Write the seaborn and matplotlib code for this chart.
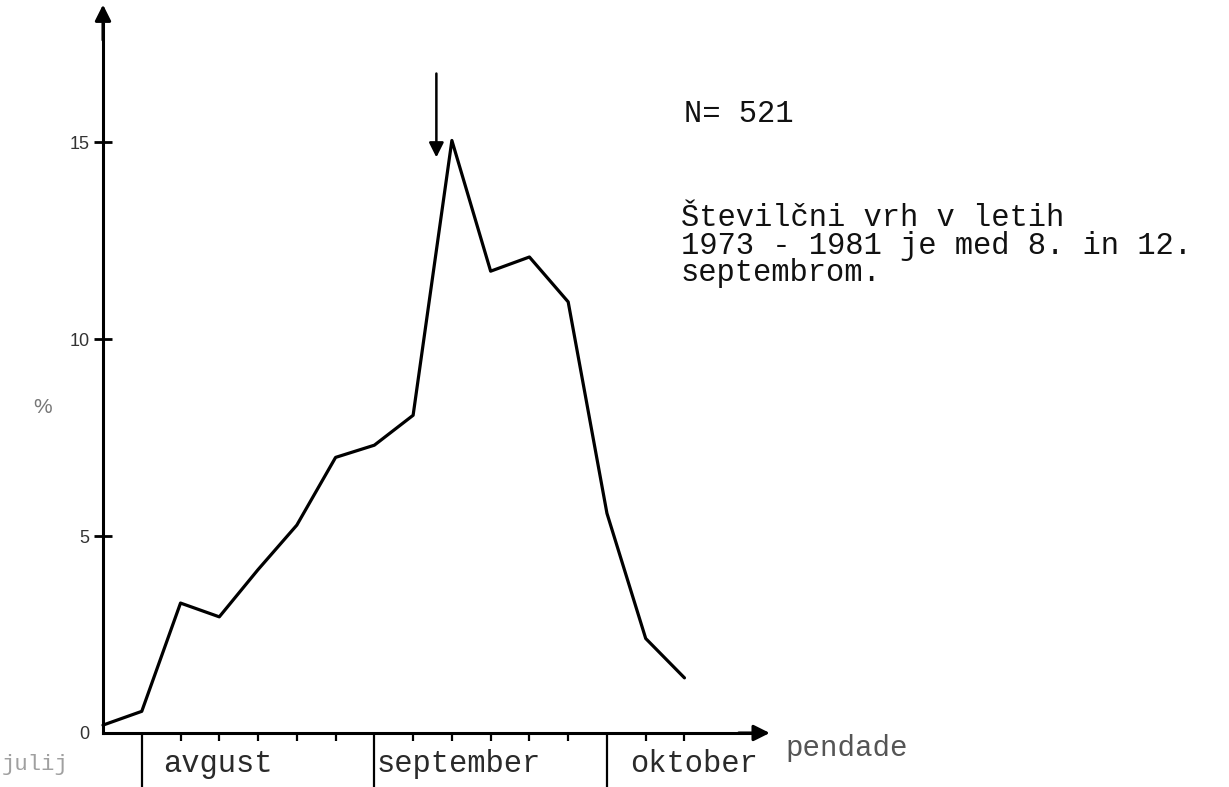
import matplotlib
matplotlib.use("Agg")
import matplotlib.pyplot as plt
import seaborn as sns
import pandas as pd

# ---- data ----
pentade = list(range(16))
odstotek = [0.2, 0.55, 3.3, 2.95, 4.15, 5.28, 7.0, 7.31, 8.07, 15.05,
            11.73, 12.09, 10.95, 5.58, 2.4, 1.4]
y_ticks = [0, 5, 10, 15]
y_tick_labels = ["0", "5", "10", "15"]
month_names = ["julij", "avgust", "september", "oktober"]
month_bounds = [1, 7, 13]
minor_ticks = [2, 3, 4, 5, 6, 8, 9, 10, 11, 12, 14, 15]
peak_arrow_x = 8.6
n_text = "N= 521"
note_text = "Številčni vrh v letih\n1973 - 1981 je med 8. in 12.\nseptembrom."

df = pd.DataFrame({"pentada": pentade, "odstotek": odstotek})

sns.set_style("white")
plt.rcParams["font.family"] = ["DejaVu Sans"]

fig = plt.figure(figsize=(12.29, 7.87), dpi=100)
ax = fig.add_axes([0, 0, 1, 1])
ax.set_facecolor("white")

sns.lineplot(data=df, x="pentada", y="odstotek", ax=ax, color="black",
             linewidth=2.3, clip_on=False)

# pixel-calibrated limits
ax.set_xlim(-2.657, 29.047)
ax.set_ylim(-1.372, 18.618)

# axes as arrows
for s in ["top", "right"]:
    ax.spines[s].set_visible(False)
ax.spines["left"].set_position(("data", 0))
ax.spines["bottom"].set_position(("data", 0))
ax.spines["left"].set_bounds(0, 18.0)
ax.spines["bottom"].set_bounds(0, 16.8)
ax.spines["left"].set_linewidth(2.2)
ax.spines["bottom"].set_linewidth(2.2)
ax.spines["left"].set_color("black")
ax.spines["bottom"].set_color("black")
ax.annotate("", xy=(0, 18.5), xytext=(0, 17.6),
            arrowprops=dict(arrowstyle="-|>", color="black", lw=2.2,
                            mutation_scale=24, shrinkA=0, shrinkB=0))
ax.annotate("", xy=(17.2, 0), xytext=(16.4, 0),
            arrowprops=dict(arrowstyle="-|>", color="black", lw=2.2,
                            mutation_scale=24, shrinkA=0, shrinkB=0))

# y ticks
ax.set_yticks(y_ticks)
ax.set_yticklabels(y_tick_labels, fontsize=13, color="#333333",
                   family=["Liberation Sans", "DejaVu Sans"])
ax.tick_params(axis="y", which="major", left=True, direction="inout",
               length=13, width=2, color="black", pad=3)
ax.yaxis.get_major_ticks()[0].tick1line.set_visible(False)

# x ticks
ax.set_xticks(month_bounds)
ax.set_xticklabels([""] * len(month_bounds))
ax.set_xticks(minor_ticks, minor=True)
ax.tick_params(axis="x", which="major", bottom=True, direction="out",
               length=40, width=1.6, color="black")
ax.tick_params(axis="x", which="minor", bottom=True, direction="out",
               length=6, width=1.6, color="black")
ax.set_xlabel("")
ax.set_ylabel("")
ax.grid(False)

mono = ["Liberation Mono", "DejaVu Sans Mono"]

# month labels
ax.text(-2.62, -0.8, month_names[0], fontsize=16, family=mono,
        color="#a0a0a0", ha="left", va="center")
ax.text(1.55, -0.8, month_names[1], fontsize=22, family=mono,
        color="#2a2a2a", ha="left", va="center")
ax.text(7.06, -0.8, month_names[2], fontsize=22, family=mono,
        color="#2a2a2a", ha="left", va="center")
ax.text(13.6, -0.8, month_names[3], fontsize=22, family=mono,
        color="#2a2a2a", ha="left", va="center")
ax.text(17.6, -0.38, "pendade", fontsize=21, family=mono,
        color="#555555", ha="left", va="center")

# % label
ax.text(-1.57, 8.28, "%", fontsize=15, color="#777777", ha="center",
        va="center", family=["Liberation Sans", "DejaVu Sans"])

# peak arrow
ax.annotate("", xy=(peak_arrow_x, 14.62), xytext=(peak_arrow_x, 16.75),
            arrowprops=dict(arrowstyle="-|>", color="black", lw=1.8,
                            mutation_scale=22, shrinkA=0, shrinkB=0))

# annotations
ax.text(14.99, 15.72, n_text, fontsize=22, family=mono, color="#111111",
        ha="left", va="center")
ax.text(14.9, 13.45, note_text, fontsize=22, family=mono, color="#111111",
        ha="left", va="top", linespacing=0.88)

fig.savefig("out.png", dpi=100, facecolor="white")
